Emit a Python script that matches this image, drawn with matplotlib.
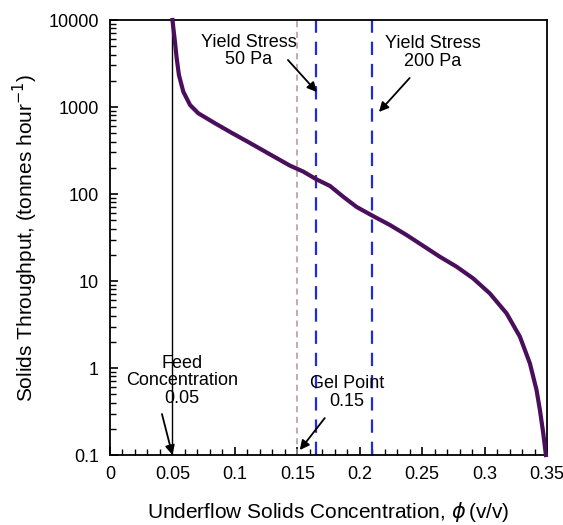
import matplotlib.pyplot as plt
from matplotlib.ticker import MultipleLocator, LogLocator, NullFormatter, FixedLocator

plt.rcParams['font.family'] = ['Liberation Sans', 'DejaVu Sans']

# flux curve
phi = [0.0500, 0.0520, 0.0534, 0.0552, 0.0587, 0.0641, 0.0707, 0.0841, 0.0974,
       0.1107, 0.1241, 0.1441, 0.1548, 0.1655, 0.1761, 0.1868, 0.1975, 0.2095,
       0.2242, 0.2375, 0.2642, 0.2776, 0.2909, 0.3042, 0.3176, 0.3283, 0.3363,
       0.3416, 0.3443, 0.3470, 0.3491]
flux = [10000, 5630, 3630, 2330, 1500, 1055, 847, 650, 505,
        396, 308, 212, 181, 147, 124, 93, 71, 57,
        44, 33.8, 19, 14.6, 10.7, 7.2, 4.25, 2.29, 1.13,
        0.56, 0.33, 0.178, 0.1]

feed_conc = 0.05
gel_point = 0.15
yield_50 = 0.165
yield_200 = 0.210

xticks = [0, 0.05, 0.1, 0.15, 0.2, 0.25, 0.3, 0.35]
xticklabels = ['0', '0.05', '0.1', '0.15', '0.2', '0.25', '0.3', '0.35']
yticks = [0.1, 1, 10, 100, 1000, 10000]
yticklabels = ['0.1', '1', '10', '100', '1000', '10000']

fig = plt.figure(figsize=(5.63, 5.25), dpi=100)
ax = fig.add_axes([0.1954, 0.1333, 0.7762, 0.8286])

ax.set_yscale('log')
ax.set_xlim(0, 0.35)
ax.set_ylim(0.1, 10000)

ax.plot([feed_conc, feed_conc], [0.1, 10000], color='black', lw=1)
ax.plot([gel_point, gel_point], [0.1, 10000], color='#b89296', lw=1.1,
        dashes=(4, 3))
ax.plot([yield_50, yield_50], [0.1, 10000], color='#1f2be0', lw=1.6,
        dashes=(6, 4))
ax.plot([yield_200, yield_200], [0.1, 10000], color='#1f2be0', lw=1.6,
        dashes=(6, 4))
ax.plot(phi, flux, color='#4a0f5c', lw=3, solid_joinstyle='round', zorder=5,
        clip_on=False)

ax.xaxis.set_major_locator(FixedLocator(xticks))
ax.set_xticklabels(xticklabels)
ax.xaxis.set_minor_locator(MultipleLocator(0.01))
ax.yaxis.set_major_locator(FixedLocator(yticks))
ax.set_yticklabels(yticklabels)
ax.yaxis.set_minor_locator(LogLocator(base=10, subs=range(2, 10), numticks=20))
ax.yaxis.set_minor_formatter(NullFormatter())

ax.tick_params(which='both', direction='in', top=False, right=False,
               labelsize=13, pad=8)
ax.tick_params(which='major', length=6, width=1.2)
ax.tick_params(which='minor', length=4, width=1)
for s in ax.spines.values():
    s.set_linewidth(1.3)

ax.set_xlabel('Underflow Solids Concentration, $\\phi\\,$(v/v)', fontsize=15,
              labelpad=12)
ax.set_ylabel('Solids Throughput, (tonnes hour$^{-1}$)', fontsize=15,
              labelpad=6)

txt = dict(ha='center', va='center', fontsize=13, linespacing=1.05)
arrow = dict(arrowstyle='-|>', color='black', lw=1.3, mutation_scale=14,
             shrinkA=0, shrinkB=0)

ax.text(0.0578, 0.71, 'Feed\nConcentration\n0.05', **txt)
ax.annotate('', xy=(feed_conc, 0.1), xytext=(0.0416, 0.296), arrowprops=arrow)

ax.text(0.1898, 0.52, 'Gel Point\n0.15', **txt)
ax.annotate('', xy=(0.152, 0.114), xytext=(0.172, 0.266), arrowprops=arrow)

ax.text(0.1113, 4400, 'Yield Stress\n50 Pa', **txt)
ax.annotate('', xy=(0.1657, 1487), xytext=(0.1425, 3470), arrowprops=arrow)

ax.text(0.2586, 4230, 'Yield Stress\n200 Pa', **txt)
ax.annotate('', xy=(0.2154, 877), xytext=(0.240, 2155), arrowprops=arrow)

fig.savefig('out.png', dpi=100)
